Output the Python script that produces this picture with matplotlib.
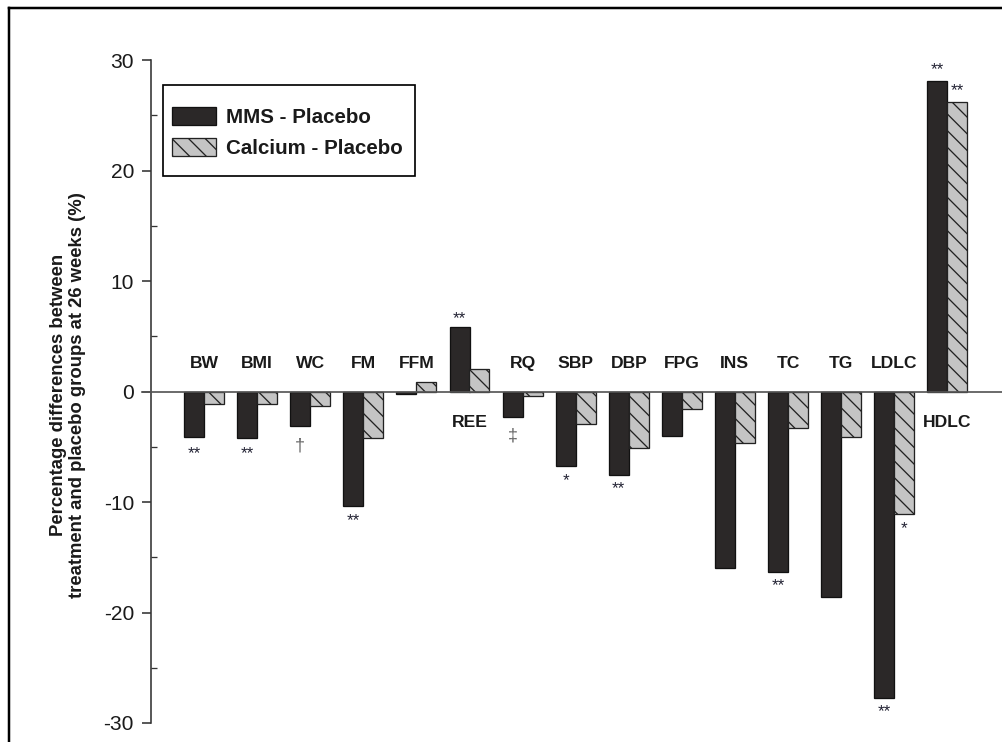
import matplotlib
matplotlib.use("Agg")
import matplotlib.pyplot as plt
from matplotlib.lines import Line2D
from matplotlib.patches import Rectangle
import numpy as np

plt.rcParams['font.family'] = ['Liberation Sans', 'DejaVu Sans']
plt.rcParams['axes.unicode_minus'] = False

# ---- data ----
categories = ["BW", "BMI", "WC", "FM", "FFM", "REE", "RQ", "SBP", "DBP",
              "FPG", "INS", "TC", "TG", "LDLC", "HDLC"]
mms_placebo = [-4.1, -4.2, -3.1, -10.4, -0.2, 5.8, -2.3, -6.7, -7.6,
               -4.0, -16.0, -16.3, -18.6, -27.7, 28.1]
calcium_placebo = [-1.1, -1.1, -1.3, -4.2, 0.9, 2.0, -0.4, -2.9, -5.1,
                   -1.6, -4.7, -3.3, -4.1, -11.1, 26.2]
label_below = ["REE", "HDLC"]
# significance marks: (category, series, mark, y position)
marks = [("BW", 0, "**", -5.6), ("BMI", 0, "**", -5.6), ("WC", 0, "\u2020", -4.9),
         ("FM", 0, "**", -11.7), ("REE", 0, "**", 6.6), ("RQ", 0, "\u2021", -4.0),
         ("SBP", 0, "*", -8.1), ("DBP", 0, "**", -8.8), ("TC", 0, "**", -17.6),
         ("LDLC", 0, "**", -29.0), ("LDLC", 1, "*", -12.4),
         ("HDLC", 0, "**", 29.1), ("HDLC", 1, "**", 27.2)]
yticks = [-30, -20, -10, 0, 10, 20, 30]
ylabel = "Percentage differences between\ntreatment and placebo groups at 26 weeks (%)"
legend_labels = ["MMS - Placebo", "Calcium - Placebo"]

W, H = 1003, 742
DPI = 100
P = 72 / DPI  # pixels -> points

plt.rcParams['hatch.linewidth'] = 1.3 * P

fig = plt.figure(figsize=(W / DPI, H / DPI), dpi=DPI)
fig.patch.set_facecolor("white")

ax = fig.add_axes([151 / W, (H - 723) / H, (W - 151) / W, (723 - 60) / H])

x = np.arange(len(categories))
bw = 0.377
off = 0.188
b1 = ax.bar(x - off, mms_placebo, bw, color="#2b2828", edgecolor="#111111",
            linewidth=1.3 * P, zorder=3, label=legend_labels[0])
b2 = ax.bar(x + off, calcium_placebo, bw, color="#c4c4c4", edgecolor="#222222",
            linewidth=1.3 * P, hatch="\\\\", zorder=3, label=legend_labels[1])

ax.set_xlim(-1.0, 15.05)
ax.set_ylim(-30, 30)

# zero line
ax.plot([-1.17, 15.05], [0, 0], color="#555555", lw=1.7 * P, clip_on=False, zorder=4)

for s in ["top", "right", "bottom"]:
    ax.spines[s].set_visible(False)
ax.spines["left"].set_color("#333333")
ax.spines["left"].set_linewidth(1.6 * P)
ax.set_xticks([])
ax.set_yticks(yticks)
ax.set_yticks([-25, -15, -5, 5, 15, 25], minor=True)
ax.tick_params(axis="y", which="major", direction="out", length=9 * P, width=1.6 * P,
               color="#333333", labelsize=21 * P, labelcolor="#1a1a1a", pad=8 * P)
ax.tick_params(axis="y", which="minor", direction="in", length=6 * P, width=1.3 * P,
               color="#333333")

fig.text(68 / W, 1 - 395 / H, ylabel, rotation=90, ha="center", va="center",
         fontsize=18.5 * P, fontweight="bold", color="#1a1a1a", linespacing=1.15)

# group labels
for i, c in enumerate(categories):
    yy = -2.85 if c in label_below else 2.5
    ax.text(i, yy, c, ha="center", va="center", fontsize=17.5 * P,
            fontweight="bold", color="#1a1a1a", zorder=5)

# significance marks
for c, s, m, y in marks:
    i = categories.index(c)
    xx = i - off if s == 0 else i + off
    dag = m in ("\u2020", "\u2021")
    ax.text(xx, y, m, ha="center", va="center", fontsize=(18 if dag else 17) * P,
            color="#666666" if dag else "#222233", zorder=5)

# legend box (drawn separately) and legend entries
fig.add_artist(Rectangle((163 / W, 1 - 176 / H), (415 - 163) / W, (176 - 85) / H,
                         transform=fig.transFigure, facecolor="white",
                         edgecolor="black", linewidth=1.7 * P, zorder=6))
leg = fig.legend(handles=[b1, b2], labels=legend_labels, loc="upper left",
                 bbox_to_anchor=(172 / W, 1 - 107 / H), bbox_transform=fig.transFigure,
                 prop={"size": 20.5 * P, "weight": "bold"}, frameon=False,
                 handlelength=2.15, handleheight=0.98, handletextpad=0.5,
                 borderpad=0, labelspacing=0.52, borderaxespad=0)
leg.set_zorder(7)
for t in leg.get_texts():
    t.set_color("#1a1a1a")

# outer frame (top and left edges visible)
fig.add_artist(Line2D([9 / W, 1.0], [1 - 8 / H, 1 - 8 / H], color="black",
                      lw=2.5 * P, transform=fig.transFigure))
fig.add_artist(Line2D([9 / W, 9 / W], [0, 1 - 8 / H], color="black",
                      lw=2.5 * P, transform=fig.transFigure))

fig.savefig("out.png", dpi=DPI, facecolor="white")
